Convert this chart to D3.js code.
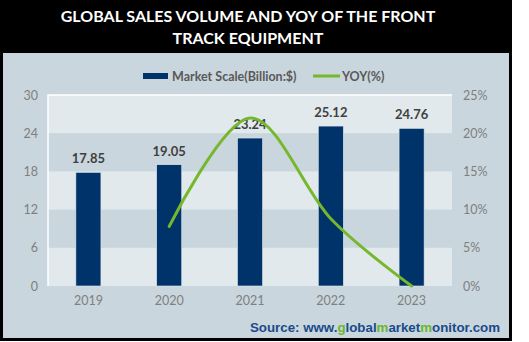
<!DOCTYPE html>
<html>
<head>
<meta charset="utf-8">
<script src="https://cdn.jsdelivr.net/npm/d3@7/dist/d3.min.js"></script>
<style>
  html, body { margin: 0; padding: 0; background: #ffffff; }
  svg { display: block; }
</style>
</head>
<body>
<svg id="chart" width="529" height="342"></svg>
<script>
// Chart data
const years = ["2019", "2020", "2021", "2022", "2023"];
const marketScale = [17.85, 19.05, 23.24, 25.12, 24.76];
const yoy = [null, 7.8, 22.0, 8.8, 0.0];
const leftTicks = [0, 6, 12, 18, 24, 30];
const rightTicks = [0, 5, 10, 15, 20, 25];
const titleLines = ["GLOBAL SALES VOLUME AND YOY OF THE FRONT", "TRACK EQUIPMENT"];
const legendLabels = ["Market Scale(Billion:$)", "YOY(%)"];

const svg = d3.select("#chart");

const C = {
  frame: "#000000",
  panel: "#c9d6dd",
  band: "#e1e9ec",
  bar: "#003369",
  line: "#77b72e",
  tick: "#7f7f7f",
  legend: "#595959",
  value: "#404040",
  source: "#1a4a8a",
  sourceGreen: "#6cb52d"
};

const FONT = "Lato, 'Open Sans', sans-serif";

// Frame and panel
svg.append("rect").attr("x", 0).attr("y", 0).attr("width", 512).attr("height", 341).attr("fill", C.frame);
svg.append("rect").attr("x", 3).attr("y", 53).attr("width", 506).attr("height", 285).attr("fill", C.panel);

// Title
svg.append("text")
  .attr("x", 248).attr("y", 22)
  .attr("text-anchor", "middle")
  .attr("fill", "#ffffff")
  .attr("font-family", FONT)
  .attr("font-weight", "bold")
  .attr("font-size", 16)
  .selectAll("tspan").data(titleLines).join("tspan")
  .attr("x", 248)
  .attr("dy", (d, i) => i === 0 ? 0 : 22)
  .text(d => d);

// Plot area
const plot = { left: 48, right: 452, top: 95, bottom: 286 };

const x = d3.scaleBand().domain(years).range([plot.left, plot.right]).paddingInner(0.69).paddingOuter(0.345);
const xc = d => x(d) + x.bandwidth() / 2;
const y = d3.scaleLinear().domain([0, 30]).range([plot.bottom, plot.top]);
const y2 = d3.scaleLinear().domain([0, 25]).range([plot.bottom, plot.top]);

// Alternating horizontal bands
const bands = d3.pairs(leftTicks).filter((d, i) => i % 2 === 0);
svg.append("g").selectAll("rect").data(bands).join("rect")
  .attr("x", plot.left)
  .attr("y", d => y(d[1]))
  .attr("width", plot.right - plot.left)
  .attr("height", d => y(d[0]) - y(d[1]))
  .attr("fill", C.band);

// Plot area top/left edge highlight
svg.append("path")
  .attr("d", `M${plot.left},${plot.bottom}V${plot.top}H${plot.right}`)
  .attr("fill", "none").attr("stroke", "#ffffff").attr("stroke-width", 1.5);

// Left axis
const leftAxis = svg.append("g")
  .attr("transform", `translate(${plot.left - 10},0)`)
  .call(d3.axisLeft(y).tickValues(leftTicks).tickSize(0).tickPadding(0));
// Right axis
const rightAxis = svg.append("g")
  .attr("transform", `translate(${plot.right + 11},0)`)
  .call(d3.axisRight(y2).tickValues(rightTicks).tickSize(0).tickPadding(0).tickFormat(d => d + "%"));
// Bottom axis
const bottomAxis = svg.append("g")
  .attr("transform", `translate(0,${plot.bottom + 8})`)
  .call(d3.axisBottom(x).tickSize(0).tickPadding(0));

[leftAxis, rightAxis, bottomAxis].forEach(g => {
  g.select(".domain").remove();
  g.selectAll("text")
    .attr("fill", C.tick)
    .attr("font-family", FONT)
    .attr("font-size", 12.5);
});
bottomAxis.selectAll("text").attr("dy", "0.9em");

// Bars
svg.append("g").selectAll("rect").data(marketScale).join("rect")
  .attr("x", (d, i) => x(years[i]))
  .attr("y", d => y(d))
  .attr("width", x.bandwidth())
  .attr("height", d => y(0) - y(d))
  .attr("fill", C.bar)
  .attr("stroke", "#dfe8ee")
  .attr("stroke-width", 0.6);

// Value labels
svg.append("g").selectAll("text").data(marketScale).join("text")
  .attr("x", (d, i) => xc(years[i]))
  .attr("y", d => y(d) - 9)
  .attr("text-anchor", "middle")
  .attr("fill", C.value)
  .attr("font-family", FONT)
  .attr("font-weight", "bold")
  .attr("font-size", 13)
  .text(d => d.toFixed(2));

// YOY smoothed line
const yoyPts = yoy.map((v, i) => ({ year: years[i], v })).filter(d => d.v !== null);
svg.append("path")
  .datum(yoyPts)
  .attr("fill", "none")
  .attr("stroke", C.line)
  .attr("stroke-width", 3)
  .attr("stroke-linecap", "round")
  .attr("d", d3.line().x(d => xc(d.year)).y(d => y2(d.v)).curve(d3.curveCardinal.tension(0)));

// Legend
const legend = svg.append("g").attr("font-family", FONT).attr("font-weight", "bold").attr("font-size", 12.5).attr("fill", C.legend);
legend.append("rect").attr("x", 143).attr("y", 73).attr("width", 25).attr("height", 6).attr("fill", C.bar);
legend.append("text").attr("x", 172).attr("y", 80.5).text(legendLabels[0]);
legend.append("line").attr("x1", 313).attr("x2", 340).attr("y1", 76).attr("y2", 76).attr("stroke", C.line).attr("stroke-width", 3);
legend.append("text").attr("x", 342).attr("y", 80.5).text(legendLabels[1]);

// Source
const src = svg.append("text")
  .attr("x", 500).attr("y", 332)
  .attr("text-anchor", "end")
  .attr("font-family", "'Liberation Sans', Arial, sans-serif")
  .attr("font-weight", "bold")
  .attr("font-size", 13.3)
  .attr("fill", C.source);
[["Source: www.", C.source], ["g", C.sourceGreen], ["lobal", C.source], ["m", C.sourceGreen],
 ["arket", C.source], ["m", C.sourceGreen], ["onitor.com", C.source]].forEach(([t, c]) => {
  src.append("tspan").attr("fill", c).text(t);
});
</script>
</body>
</html>
